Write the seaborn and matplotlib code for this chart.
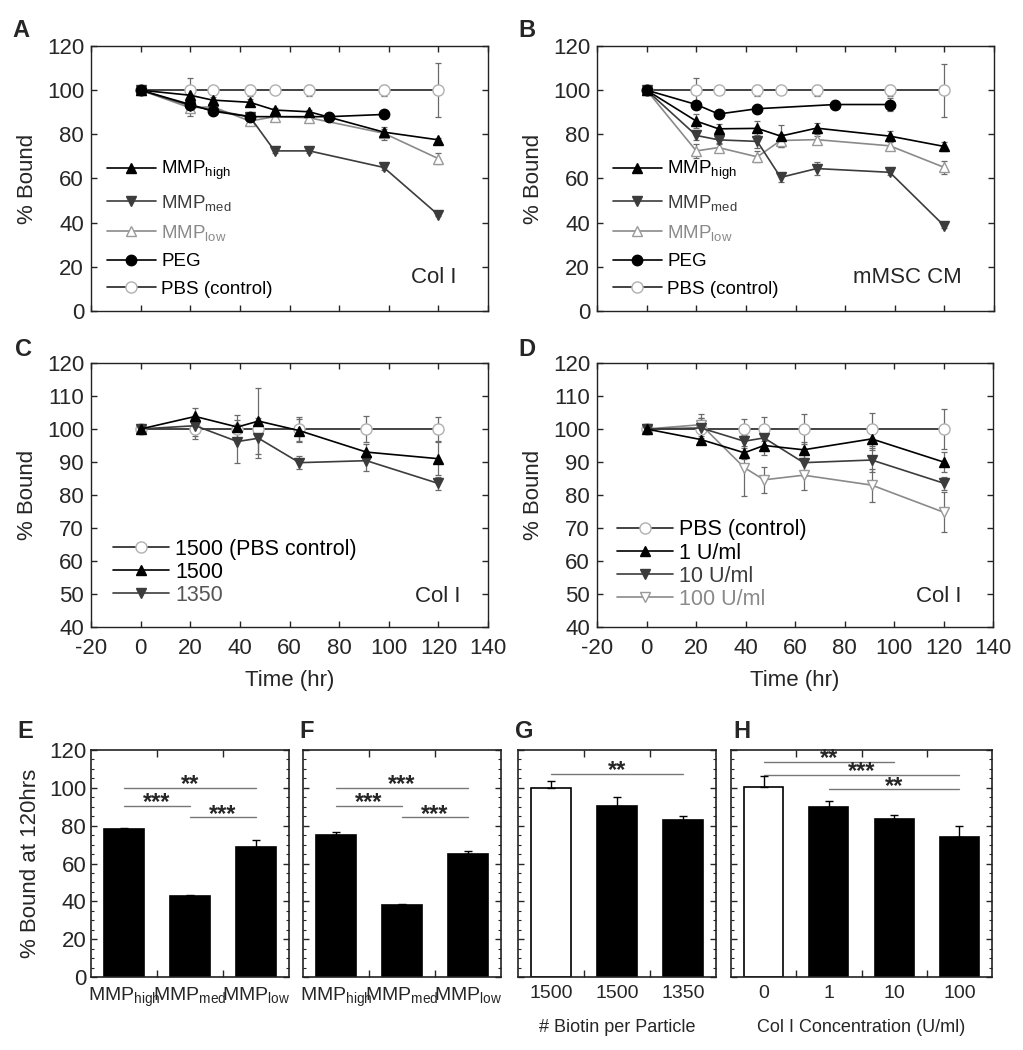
import numpy as np
import pandas as pd
import matplotlib
matplotlib.use("Agg")
import matplotlib.pyplot as plt
import seaborn as sns
from matplotlib.ticker import MultipleLocator

sns.set_theme(style="ticks")
plt.rcParams["font.family"] = ["Liberation Sans", "DejaVu Sans"]
plt.rcParams["mathtext.fontset"] = "custom"
plt.rcParams["mathtext.rm"] = "Liberation Sans"
plt.rcParams["mathtext.it"] = "Liberation Sans:italic"
plt.rcParams["mathtext.bf"] = "Liberation Sans:bold"
plt.rcParams["axes.unicode_minus"] = False

# ---- panel A: Col I ----
a_t = [0, 20, 29, 44, 54, 68, 98, 120]
a_peg_t = [0, 20, 29, 44, 76, 98]
a_high = [100, 97.7, 95.5, 94.5, 91, 90.2, 81, 77.5]
a_high_err = [0, 1.5, 1.5, 1.5, 1, 1, 1.5, 1]
a_med = [100, 93, 91, 88, 72.5, 72.5, 65, 43.5]
a_med_err = [0, 1.5, 1, 1, 1, 1, 1, 0.5]
a_low = [100, 92, 92.5, 86, 88, 87.5, 80.5, 69]
a_low_err = [0, 3.5, 1.5, 1.5, 2, 1.5, 3, 2.5]
a_peg = [100, 93.5, 90.5, 88, 88, 89]
a_peg_err = [0, 1, 1, 1, 1, 1]
a_pbs = [100, 100, 100, 100, 100, 100, 100, 100]
a_pbs_err = [0, 5.5, 1, 2.5, 1, 2.5, 2.5, 12.2]

# ---- panel B: mMSC CM ----
b_t = [0, 20, 29, 44.6, 54, 68.5, 98, 120]
b_peg_t = [0, 20, 29, 44.6, 76, 98]
b_high = [100, 86, 82.5, 82.7, 79.2, 82.8, 79.2, 74.5]
b_high_err = [0, 3, 2, 3.5, 5, 2.5, 2.5, 2]
b_med = [100, 79.5, 77.5, 76.8, 60.5, 64.5, 62.8, 38.5]
b_med_err = [0, 2, 2, 3, 2, 3, 1, 1]
b_low = [100, 72.5, 74, 69.8, 77.2, 77.6, 74.8, 65]
b_low_err = [0, 3, 2, 2.5, 3, 1.5, 2, 3]
b_peg = [100, 93.5, 89.2, 91.6, 93.5, 93.5]
b_peg_err = [0, 1, 1.5, 1, 1, 3]
b_pbs = [100, 100, 100, 100, 100, 100, 100, 100]
b_pbs_err = [0, 5.5, 1, 2.5, 1, 2.5, 2.5, 12]

# ---- panel C: biotin density ----
c_t = [0, 22, 39, 47.5, 64, 91, 120]
c_pbs = [100, 100, 100, 100, 100, 100, 100]
c_pbs_err = [1, 3, 1, 2, 3.5, 3.8, 3.5]
c_1500 = [100, 103.8, 100.6, 102.4, 99.5, 93, 91]
c_1500_err = [1, 2.5, 3.5, 10, 3.5, 2.5, 5]
c_1350 = [100, 101, 96.2, 97.2, 89.8, 90.4, 83.5]
c_1350_err = [1, 3, 6.5, 6, 2, 3, 2]

# ---- panel D: Col I concentration ----
d_t = [0, 22, 39.5, 47.5, 63.5, 91, 120]
d_pbs = [100, 100, 100, 100, 100, 100, 100]
d_pbs_err = [0.5, 4.5, 3, 3.5, 4.5, 5, 6]
d_1u = [100, 96.8, 92.8, 95, 93.7, 97, 90]
d_1u_err = [0.5, 1, 2, 3, 2.5, 3.5, 3]
d_10u = [100, 100.3, 96.3, 97.3, 89.8, 90.6, 83.6]
d_10u_err = [0.5, 3, 2, 3, 4, 3.5, 2]
d_100u = [100, 101.3, 88.3, 84.6, 86, 83, 74.8]
d_100u_err = [0.5, 2, 8.5, 4, 4.5, 5, 6]

# ---- bar panels ----
mmp_groups = ["high", "med", "low"]
mmp_ticks = [r"MMP$_{\mathrm{high}}$", r"MMP$_{\mathrm{med}}$", r"MMP$_{\mathrm{low}}$"]
e_vals = [78, 42.8, 68.8]
e_err = [1, 0.3, 3.5]
f_vals = [75, 38.3, 65.2]
f_err = [1.6, 0.5, 1.3]
g_groups = ["1500 PBS", "1500", "1350"]
g_ticks = ["1500", "1500", "1350"]
g_vals = [100, 90.5, 83]
g_err = [3.5, 4.8, 2.3]
h_groups = ["0", "1", "10", "100"]
h_vals = [100.2, 90, 83.3, 74.2]
h_err = [5.8, 3.2, 2.3, 5.8]

STY = {
    "high": dict(color="black", marker="^", markerfacecolor="black", markeredgecolor="black", markersize=7),
    "med": dict(color="#3c3c3c", marker="v", markerfacecolor="#3c3c3c", markeredgecolor="#3c3c3c", markersize=7),
    "low": dict(color="#8a8a8a", marker="^", markerfacecolor="white", markeredgecolor="#9a9a9a", markersize=7),
    "peg": dict(color="black", marker="o", markerfacecolor="black", markeredgecolor="black", markersize=7.5),
    "pbs": dict(color="#222222", marker="o", markerfacecolor="white", markeredgecolor="#b0b0b0", markersize=8),
    "low_v": dict(color="#8a8a8a", marker="v", markerfacecolor="white", markeredgecolor="#9a9a9a", markersize=7),
}


def box(l, t, r, b):
    return [l / 1023, 1 - b / 1050, (r - l) / 1023, (b - t) / 1050]


def series(ax, t, v, e, key, label, z=2):
    sns.lineplot(x=t, y=v, ax=ax, linewidth=1.2, markeredgewidth=1, label=label, zorder=z, **STY[key])
    ax.errorbar(t, v, yerr=e, fmt="none", ecolor="#6a6a6a", elinewidth=0.9, capsize=2.5, capthick=0.9, zorder=1)


def style_line(ax, ylim, ystep, show_x):
    ax.set_xlim(-20, 140)
    ax.set_xticks(range(-20, 141, 20))
    ax.set_ylim(*ylim)
    ax.set_yticks(range(ylim[0], ylim[1] + 1, ystep))
    ax.tick_params(direction="in", top=True, right=True, length=4.5, width=1, labelsize=16, pad=5)
    ax.tick_params(axis="x", pad=8)
    ax.set_ylabel("% Bound", fontsize=16, labelpad=6)
    if show_x:
        ax.set_xlabel("Time (hr)", fontsize=16, labelpad=8)
    else:
        ax.set_xlabel("")
        ax.tick_params(labelbottom=False)
    for s in ax.spines.values():
        s.set_linewidth(1)
        s.set_color("#222222")


def legend(ax, order, colors, anchor, fs, spacing):
    h, l = ax.get_legend_handles_labels()
    d = dict(zip(l, h))
    leg = ax.legend([d[k] for k in order], order, loc="lower left", bbox_to_anchor=anchor,
                    frameon=False, fontsize=fs, handlelength=2.6, handletextpad=0.3,
                    labelspacing=spacing, borderaxespad=0, borderpad=0)
    for txt, c in zip(leg.get_texts(), colors):
        txt.set_color(c)


fig = plt.figure(figsize=(10.23, 10.5), dpi=100)
axA = fig.add_axes(box(91, 46, 488, 311))
axB = fig.add_axes(box(597, 46, 994, 311))
axC = fig.add_axes(box(91, 363, 488, 627))
axD = fig.add_axes(box(597, 363, 993, 627))
axE = fig.add_axes(box(91, 750, 289, 977))
axF = fig.add_axes(box(303, 750, 501, 977))
axG = fig.add_axes(box(518, 750, 716, 977))
axH = fig.add_axes(box(731, 750, 992, 977))

lab_mmp = [r"MMP$_{\mathrm{high}}$", r"MMP$_{\mathrm{med}}$", r"MMP$_{\mathrm{low}}$", "PEG", "PBS (control)"]
col_mmp = ["black", "#3c3c3c", "#8a8a8a", "black", "black"]

for ax, t, pt, hi, hie, me, mee, lo, loe, pg, pge, pb, pbe, note in [
    (axA, a_t, a_peg_t, a_high, a_high_err, a_med, a_med_err, a_low, a_low_err, a_peg, a_peg_err, a_pbs, a_pbs_err, "Col I"),
    (axB, b_t, b_peg_t, b_high, b_high_err, b_med, b_med_err, b_low, b_low_err, b_peg, b_peg_err, b_pbs, b_pbs_err, "mMSC CM"),
]:
    series(ax, t, pb, pbe, "pbs", lab_mmp[4], z=2)
    series(ax, t, lo, loe, "low", lab_mmp[2], z=3)
    series(ax, t, me, mee, "med", lab_mmp[1], z=3)
    series(ax, t, hi, hie, "high", lab_mmp[0], z=4)
    series(ax, pt, pg, pge, "peg", lab_mmp[3], z=5)
    style_line(ax, (0, 120), 20, False)
    legend(ax, lab_mmp, col_mmp, (0.04, 0.05), 13.5, 0.55)
    ax.text(0.92, 0.125, note, transform=ax.transAxes, ha="right", va="center", fontsize=16)

# C
series(axC, c_t, c_pbs, c_pbs_err, "pbs", "1500 (PBS control)", z=2)
series(axC, c_t, c_1350, c_1350_err, "med", "1350", z=3)
series(axC, c_t, c_1500, c_1500_err, "high", "1500", z=4)
style_line(axC, (40, 120), 10, True)
legend(axC, ["1500 (PBS control)", "1500", "1350"], ["black", "black", "#555555"], (0.055, 0.08), 15.5, 0.1)
axC.text(0.93, 0.114, "Col I", transform=axC.transAxes, ha="right", va="center", fontsize=16)

# D
series(axD, d_t, d_pbs, d_pbs_err, "pbs", "PBS (control)", z=2)
series(axD, d_t, d_100u, d_100u_err, "low_v", "100 U/ml", z=3)
series(axD, d_t, d_10u, d_10u_err, "med", "10 U/ml", z=3)
series(axD, d_t, d_1u, d_1u_err, "high", "1 U/ml", z=4)
style_line(axD, (40, 120), 10, True)
legend(axD, ["PBS (control)", "1 U/ml", "10 U/ml", "100 U/ml"], ["black", "black", "#3c3c3c", "#8a8a8a"],
       (0.05, 0.065), 15.5, 0.1)
axD.text(0.92, 0.114, "Col I", transform=axD.transAxes, ha="right", va="center", fontsize=16)


def bar_panel(ax, groups, ticks, vals, errs, colors, sigs, show_y, xlabel=None):
    n = len(groups)
    df = pd.DataFrame({"g": groups, "v": vals})
    sns.barplot(data=df, x="g", y="v", hue="g", order=groups, palette=dict(zip(groups, colors)),
                edgecolor="black", linewidth=1.2, width=0.6, legend=False, ax=ax)
    ax.errorbar(range(n), vals, yerr=[[0] * n, errs], fmt="none", ecolor="black",
                elinewidth=1, capsize=3, capthick=1, zorder=3)
    for i, j, y, s in sigs:
        ax.plot([i, j], [y, y], color="#777777", lw=1)
        ax.text((i + j) / 2, y - 1.8, s, ha="center", va="baseline", fontsize=17, fontweight="bold")
    ax.set_xlim(-0.5, n - 0.5)
    ax.set_ylim(0, 120)
    ax.set_xticks(range(n))
    ax.set_xticklabels(ticks, fontsize=14)
    ax.set_xticks(np.arange(0.5, n - 0.5, 1), minor=True)
    ax.set_yticks(range(0, 121, 20))
    ax.yaxis.set_minor_locator(MultipleLocator(5))
    ax.tick_params(axis="x", which="major", length=0, pad=6)
    ax.tick_params(axis="x", which="minor", direction="in", top=True, bottom=True, length=5, width=1)
    ax.tick_params(axis="y", which="major", direction="in", left=True, right=True, length=4.5, width=1, labelsize=16)
    ax.tick_params(axis="y", which="minor", direction="in", left=True, right=True, length=2.5, width=0.8)
    ax.set_ylabel("")
    ax.set_xlabel(xlabel if xlabel else "", fontsize=13, labelpad=12)
    if show_y:
        ax.set_ylabel("% Bound at 120hrs", fontsize=16, labelpad=6)
    else:
        ax.tick_params(axis="y", labelleft=False)
    for s in ax.spines.values():
        s.set_linewidth(1.2)
        s.set_color("#222222")


bar_panel(axE, mmp_groups, mmp_ticks, e_vals, e_err, ["black"] * 3,
          [(0, 2, 100, "**"), (0, 1, 90.5, "***"), (1, 2, 84.5, "***")], True)
bar_panel(axF, mmp_groups, mmp_ticks, f_vals, f_err, ["black"] * 3,
          [(0, 2, 100, "***"), (0, 1, 90.5, "***"), (1, 2, 84.5, "***")], False)
bar_panel(axG, g_groups, g_ticks, g_vals, g_err, ["white", "black", "black"],
          [(0, 2, 107.5, "**")], False, "# Biotin per Particle")
bar_panel(axH, h_groups, h_groups, h_vals, h_err, ["white", "black", "black", "black"],
          [(0, 2, 113.8, "**"), (0, 3, 106.8, "***"), (1, 3, 99.3, "**")], False, "Col I Concentration (U/ml)")

for lab, x, y in [("A", 12, 37), ("B", 518, 37), ("C", 15, 356), ("D", 518, 356),
                  ("E", 17, 738), ("F", 299, 738), ("G", 515, 738), ("H", 733, 738)]:
    fig.text(x / 1023, 1 - y / 1050, lab, fontsize=17, fontweight="bold", ha="left", va="baseline")

fig.savefig("out.png", dpi=100)
